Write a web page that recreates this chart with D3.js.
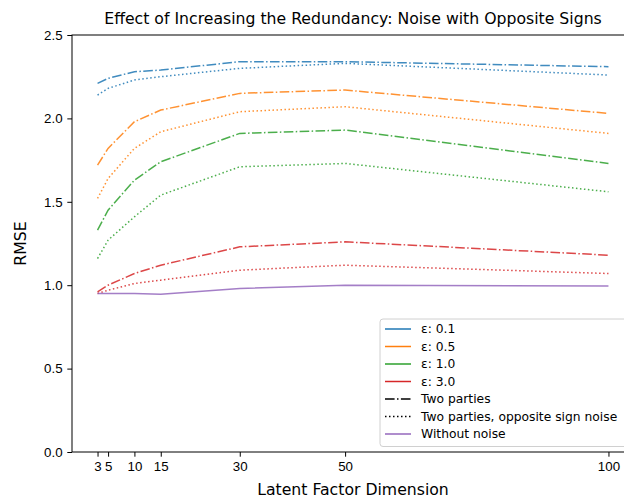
<!DOCTYPE html>
<html>
<head>
<meta charset="utf-8">
<script src="https://cdn.jsdelivr.net/npm/d3@7"></script>
<style>
  body { margin: 0; background: #fff; }
  svg { display: block; font-family: "DejaVu Sans", sans-serif; }
</style>
</head>
<body>
<svg id="chart" width="624" height="502"></svg>
<script>
// latent factor dimensions (x)
const dims = [3, 5, 10, 15, 30, 50, 100];
const epsLabels = ['ε: 0.1', 'ε: 0.5', 'ε: 1.0', 'ε: 3.0'];
const epsColors = ['#1f77b4', '#ff7f0e', '#2ca02c', '#d62728'];

// RMSE, two parties (dash-dot)
const twoParties = [
  [2.21, 2.24, 2.28, 2.29, 2.34, 2.34, 2.31],
  [1.72, 1.82, 1.98, 2.05, 2.15, 2.17, 2.03],
  [1.33, 1.45, 1.63, 1.74, 1.91, 1.93, 1.73],
  [0.96, 1.00, 1.07, 1.12, 1.23, 1.26, 1.18]
];
// RMSE, two parties with opposite sign noise (dotted)
const oppositeSign = [
  [2.14, 2.18, 2.23, 2.25, 2.30, 2.33, 2.26],
  [1.52, 1.64, 1.82, 1.92, 2.04, 2.07, 1.91],
  [1.16, 1.27, 1.41, 1.54, 1.71, 1.73, 1.56],
  [0.95, 0.97, 1.01, 1.03, 1.09, 1.12, 1.07]
];
// RMSE without noise (solid purple)
const noNoise = [0.95, 0.95, 0.95, 0.946, 0.98, 1.0, 0.995];

const yTicks = [0, 0.5, 1.0, 1.5, 2.0, 2.5];

const svg = d3.select('#chart');
const L = 72, R = 634, T = 35, B = 452;

const x = d3.scaleLinear().domain([-1.85, 104.85]).range([L, R]);
const y = d3.scaleLinear().domain([0, 2.5]).range([B, T]);

const dashDot = '9.6,2.4,1.5,2.4';
const dotted = '1.5,2.5';

const line = d3.line().x((d, i) => x(dims[i])).y(d => y(d));

const plot = svg.append('g');

function drawSeries(vals, color, dash){
  plot.append('path')
    .datum(vals)
    .attr('d', line)
    .attr('fill', 'none')
    .attr('stroke', color)
    .attr('stroke-opacity', 0.85)
    .attr('stroke-width', 1.5)
    .attr('stroke-dasharray', dash);
}

epsColors.forEach((c, k) => {
  drawSeries(twoParties[k], c, dashDot);
  drawSeries(oppositeSign[k], c, dotted);
});
drawSeries(noNoise, '#9467bd', null);

// axes
const xAxis = d3.axisBottom(x).tickValues(dims).tickSize(4.7).tickPadding(4.7).tickFormat(d3.format('d'));
const yAxis = d3.axisLeft(y).tickValues(yTicks).tickSize(4.7).tickPadding(4.7).tickFormat(d3.format('.1f'));

const gx = svg.append('g').attr('transform', `translate(0,${B})`).call(xAxis);
const gy = svg.append('g').attr('transform', `translate(${L},0)`).call(yAxis);
[gx, gy].forEach(g => {
  g.select('.domain').remove();
  g.selectAll('text').style('font-size', '13.3px').attr('fill', '#000');
  g.selectAll('line').attr('stroke', '#000').attr('stroke-width', 1);
});

// spines
svg.append('rect')
  .attr('x', L).attr('y', T).attr('width', R - L).attr('height', B - T)
  .attr('fill', 'none').attr('stroke', '#000').attr('stroke-width', 1);

// titles
svg.append('text').attr('x', (L + R) / 2).attr('y', 24).attr('text-anchor', 'middle')
  .style('font-size', '15.7px').text('Effect of Increasing the Redundancy: Noise with Opposite Signs');
svg.append('text').attr('x', (L + R) / 2).attr('y', 495).attr('text-anchor', 'middle')
  .style('font-size', '15.7px').text('Latent Factor Dimension');
svg.append('text').attr('transform', `translate(26,${(T + B) / 2}) rotate(-90)`).attr('text-anchor', 'middle')
  .style('font-size', '15.7px').text('RMSE');

// legend
const legendItems = [
  ...epsLabels.map((t, k) => ({label: t, color: epsColors[k], dash: null})),
  {label: 'Two parties', color: '#000', dash: dashDot},
  {label: 'Two parties, opposite sign noise', color: '#000', dash: dotted},
  {label: 'Without noise', color: '#9467bd', dash: null}
];
const lg = svg.append('g').attr('transform', 'translate(380,319)');
lg.append('rect').attr('width', 248).attr('height', 127.5).attr('rx', 3)
  .attr('fill', '#fff').attr('fill-opacity', 0.8).attr('stroke', '#d0d0d0');
legendItems.forEach((it, i) => {
  const yy = 10 + i * 17.5;
  lg.append('line').attr('x1', 5).attr('x2', 31).attr('y1', yy).attr('y2', yy)
    .attr('stroke', it.color).attr('stroke-width', 1.5).attr('stroke-dasharray', it.dash);
  lg.append('text').attr('x', 41).attr('y', yy + 4.3).style('font-size', '12.3px').text(it.label);
});
</script>
</body>
</html>
